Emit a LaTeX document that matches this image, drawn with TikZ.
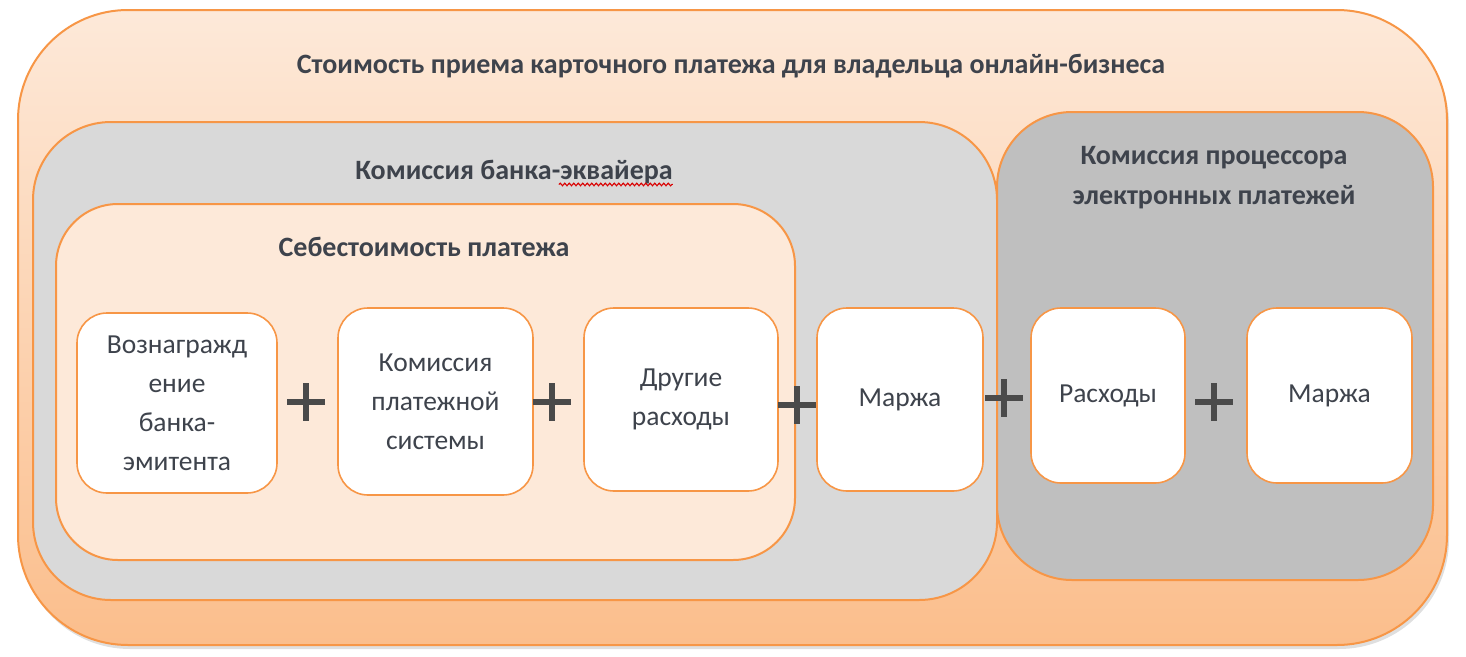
\documentclass[tikz,border=0pt]{standalone}
\usepackage{fontspec}
\setmainfont{Carlito}
\usepackage{xcolor}
\usepackage{tikz}
\usetikzlibrary{positioning,shadows,decorations.pathmorphing,calc}
\definecolor{bordero}{HTML}{F79646}
\definecolor{peachtop}{HTML}{FDE9D9}
\definecolor{peachbot}{HTML}{FBBE8C}
\definecolor{peachlite}{HTML}{FDE9D9}
\definecolor{greylite}{HTML}{D9D9D9}
\definecolor{greydark}{HTML}{BFBFBF}
\definecolor{inktext}{HTML}{3E434C}
\definecolor{inkplus}{HTML}{4A4A4A}
\tikzset{
  outerbox/.style={rectangle, draw=bordero, line width=2pt, rounded corners=110pt,
    top color=peachtop, bottom color=peachbot,
    drop shadow={shadow xshift=2pt, shadow yshift=-4pt, opacity=0.25}},
  groupbox/.style={rectangle, draw=bordero, line width=2pt},
  itembox/.style={rectangle, draw=bordero, fill=white, line width=1.6pt, rounded corners=30pt,
    align=center, text=inktext, font=\fontsize{27.5}{39}\selectfont, inner sep=4pt},
  boxtitle/.style={align=center, text=inktext, font=\fontsize{28}{40}\selectfont\bfseries,
    inner sep=0pt},
  plussign/.style={rectangle, minimum size=38pt, inner sep=0pt,
    path picture={
      \draw[inkplus, line width=6pt]
        (path picture bounding box.north) -- (path picture bounding box.south)
        (path picture bounding box.west) -- (path picture bounding box.east);}},
  spellmark/.style={draw=red!85!black, line width=1.1pt,
    decorate, decoration={snake, amplitude=1.3pt, segment length=4.5pt}},
}
\begin{document}
\begin{tikzpicture}[x=1pt, y=-1pt]
  \useasboundingbox (0,0) rectangle (1466,656);

  % ============ Containers ============
  \node[outerbox, minimum width=1429pt, minimum height=635pt] (total) at (732.5,327.5) {};
  \node[groupbox, fill=greylite, rounded corners=78pt,
    minimum width=964pt, minimum height=478pt] (acquirer) at (515,361) {};
  \node[groupbox, fill=greydark, rounded corners=75pt,
    minimum width=436pt, minimum height=468pt] (processor) at (1215,346) {};
  \node[groupbox, fill=peachlite, rounded corners=62pt,
    minimum width=739pt, minimum height=356pt] (costprice) at (425.5,382) {};

  % ============ Titles ============
  \node[boxtitle] (totaltitle) at (731,66)
    {Стоимость приема карточного платежа для владельца онлайн-бизнеса};
  \node[boxtitle] (acqtitle)   at (514,172) {Комиссия банка-эквайера};
  \node[boxtitle] (costtitle)  at (424,247) {Себестоимость платежа};
  \node[boxtitle] (proctitle)  at (1214,178) {Комиссия процессора\\электронных платежей};

  % spell-check underline under the last word
  \draw[spellmark] ([xshift=-114pt, yshift=-5pt]acqtitle.base east)
    -- ([yshift=-5pt]acqtitle.base east);

  % ============ Item boxes ============
  \node[itembox, minimum width=200pt, minimum height=180pt] (issuer)  at (177,403)
    {Вознагражд\\ение\\банка-\\эмитента};
  \node[itembox, minimum width=195pt, minimum height=187pt] (paysys)  at (435.5,401.5)
    {Комиссия\\платежной\\системы};
  \node[itembox, minimum width=194pt, minimum height=183pt] (other)   at (681,399.5)
    {Другие\\расходы};
  \node[itembox, minimum width=166pt, minimum height=183pt] (acqmargin) at (900,399.5)
    {Маржа};
  \node[itembox, minimum width=154pt, minimum height=175pt] (proccost) at (1108,395.5)
    {Расходы};
  \node[itembox, minimum width=165pt, minimum height=175pt] (procmargin) at (1329.5,395.5)
    {Маржа};

  % ============ Plus signs ============
  \node[plussign] (plus1) at (306,402) {};
  \node[plussign] (plus2) at (552,402) {};
  \node[plussign] (plus3) at (797,405) {};
  \node[plussign] (plus4) at (1004,398) {};
  \node[plussign] (plus5) at (1214,402) {};

\end{tikzpicture}
\end{document}
